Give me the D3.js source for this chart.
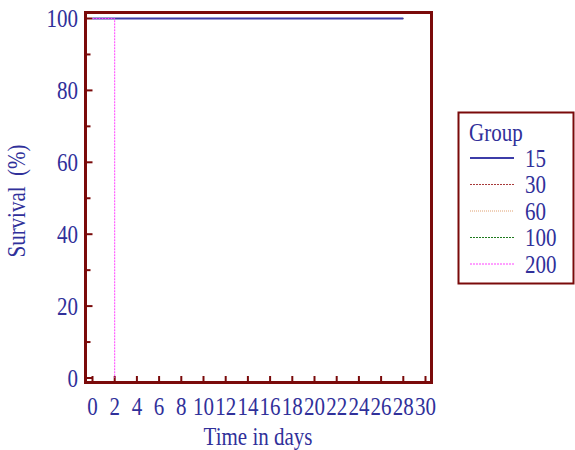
<!DOCTYPE html>
<html>
<head>
<meta charset="utf-8">
<script src="https://cdn.jsdelivr.net/npm/d3@7"></script>
<style>
  body { margin: 0; background: #fff; }
  text { font-family: "Liberation Serif", "Times New Roman", serif; fill: #30309a; font-size: 21px; }
</style>
</head>
<body>
<div id="chart"></div>
<script>
// Kaplan-Meier style survival data, one array per group
const groups = ["15", "30", "60", "100", "200"];
const times15 = [0, 28], surv15 = [100, 100];
const times30 = [0, 28], surv30 = [100, 100];
const times60 = [0, 28], surv60 = [100, 100];
const times100 = [0, 28], surv100 = [100, 100];
const times200 = [0, 2], surv200 = [100, 0];
const xTicks = d3.range(0, 31, 2);
const yTicks = [0, 20, 40, 60, 80, 100];

const seriesData = [
  { name: "30", t: times30, s: surv30, color: "#a83a3a", width: 1, dash: "2,1" },
  { name: "60", t: times60, s: surv60, color: "#e0a070", width: 1, dash: "1,1" },
  { name: "100", t: times100, s: surv100, color: "#1e7a1e", width: 1, dash: "2,1" },
  { name: "15", t: times15, s: surv15, color: "#3c3ca8", width: 2, dash: null },
  { name: "200", t: times200, s: surv200, color: "#ff40ff", width: 1, dash: "2,1" }
];

const W = 575, H = 450;
const FRAME = "#7a0a0a";
const STRETCH = 1.17; // the original font is taller than Liberation Serif

const svg = d3.select("#chart").append("svg")
  .attr("width", W)
  .attr("height", H);

let x = d3.scaleLinear().domain([0, 30]).range([92.5, 425.5]);
let y = d3.scaleLinear().domain([0, 100]).range([378, 18.5]);

function label(parent, px, py, str, anchor, dy, rot) {
  return parent.append("text")
    .attr("transform", `translate(${px},${py})` + (rot ? ` rotate(${rot})` : "") + ` scale(1,${STRETCH})`)
    .attr("text-anchor", anchor || "start")
    .attr("dy", dy || 0)
    .attr("xml:space", "preserve")
    .text(str);
}

// frame
svg.append("rect")
  .attr("x", 85.5).attr("y", 12.5)
  .attr("width", 346).attr("height", 370)
  .attr("fill", "none")
  .attr("stroke", FRAME)
  .attr("stroke-width", 3);

// y ticks (inward), minor every 10
d3.range(0, 101, 10).forEach(v => {
  let major = v % 20 === 0;
  svg.append("line")
    .attr("x1", 85.5).attr("x2", 85.5 + (major ? 7 : 5))
    .attr("y1", y(v)).attr("y2", y(v))
    .attr("stroke", FRAME).attr("stroke-width", 2);
});

let yLab = svg.append("g");
yTicks.forEach(v => label(yLab, 78, y(v), v, "end", "0.35em"));

// x ticks (inward)
xTicks.forEach(v => {
  svg.append("line")
    .attr("x1", x(v)).attr("x2", x(v))
    .attr("y1", 382).attr("y2", 376)
    .attr("stroke", FRAME).attr("stroke-width", 2);
});

let xLab = svg.append("g");
xTicks.forEach(v => label(xLab, x(v), 415, v, "middle"));

// axis titles
label(svg, 25, 201, "Survival  (%)", "middle", 0, -90);
label(svg, 258, 445, "Time in days", "middle");

// survival curves
let line = d3.line()
  .curve(d3.curveStepAfter)
  .x(d => x(d[0]))
  .y(d => y(d[1]));

seriesData.forEach(sr => {
  let pts = sr.t.map((t, i) => [t, sr.s[i]]);
  svg.append("path")
    .attr("d", line(pts))
    .attr("fill", "none")
    .attr("stroke", sr.color)
    .attr("stroke-width", sr.width)
    .attr("stroke-dasharray", sr.dash);
});

// legend
let legend = svg.append("g");
legend.append("rect")
  .attr("x", 458.5).attr("y", 112.5)
  .attr("width", 115).attr("height", 171)
  .attr("fill", "none")
  .attr("stroke", FRAME)
  .attr("stroke-width", 2);

label(legend, 469, 141, "Group");

groups.forEach((name, i) => {
  let sr = seriesData.find(d => d.name === name);
  let ly = 158 + i * 26.5;
  legend.append("line")
    .attr("x1", 470).attr("x2", 514)
    .attr("y1", ly).attr("y2", ly)
    .attr("stroke", sr.color)
    .attr("stroke-width", sr.width)
    .attr("stroke-dasharray", sr.dash);
  label(legend, 525, ly, name, "start", "0.35em");
});
</script>
</body>
</html>
